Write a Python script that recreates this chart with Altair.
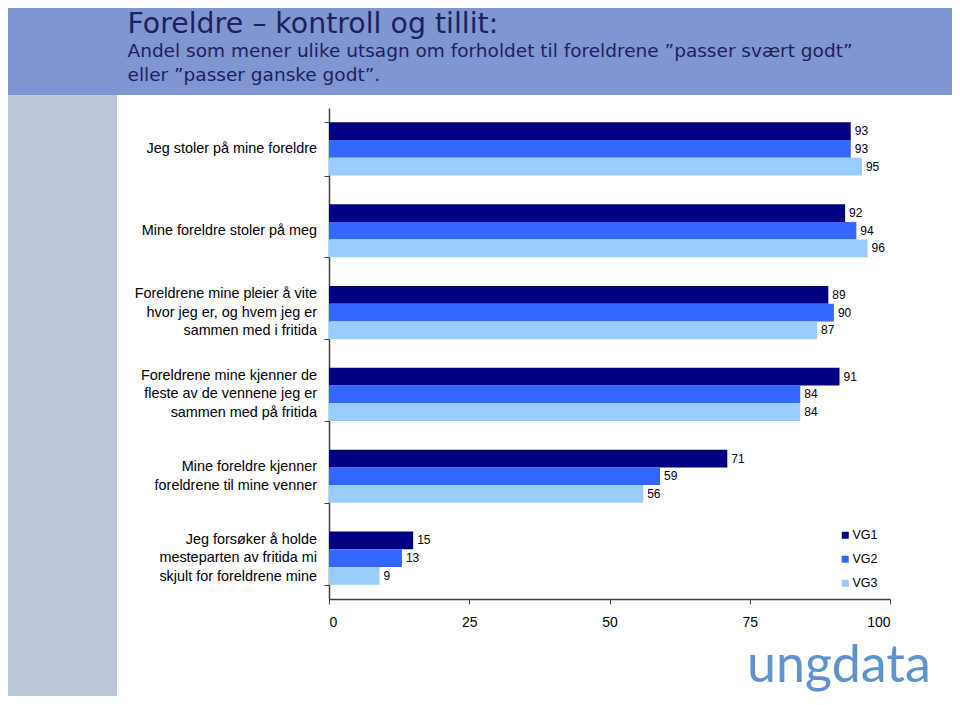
import altair as alt
import pandas as pd

# ---- data ----
categories = [
    "Jeg stoler på mine foreldre",
    "Mine foreldre stoler på meg",
    "Foreldrene mine pleier å vite\nhvor jeg er, og hvem jeg er\nsammen med i fritida",
    "Foreldrene mine kjenner de\nfleste av de vennene jeg er\nsammen med på fritida",
    "Mine foreldre kjenner\nforeldrene til mine venner",
    "Jeg forsøker å holde\nmesteparten av fritida mi\nskjult for foreldrene mine",
]
groups = ["VG1", "VG2", "VG3"]
vg1 = [93, 92, 89, 91, 71, 15]
vg2 = [93, 94, 90, 84, 59, 13]
vg3 = [95, 96, 87, 84, 56, 9]
x_ticks = [0, 25, 50, 75, 100]
colors = ["#000080", "#3366FF", "#99CCFF"]

title_text = "Foreldre – kontroll og tillit:"
subtitle_1 = "Andel som mener ulike utsagn om forholdet til foreldrene ”passer svært godt”"
subtitle_2 = "eller ”passer ganske godt”."
logo_text = "ungdata"

rows = []
for g, vals in zip(groups, [vg1, vg2, vg3]):
    for c, v in zip(categories, vals):
        rows.append({"category": c, "group": g, "value": v})
df = pd.DataFrame(rows)
cat_df = pd.DataFrame({"category": categories})
one = pd.DataFrame({"k": [0]})

W, H = 561, 491
PAD = {"left": 321, "top": 100, "right": 62, "bottom": 97}
LH = 18.5

y_enc = alt.Y(
    "category:N",
    sort=categories,
    scale=alt.Scale(paddingInner=0.35, paddingOuter=0.175),
    axis=alt.Axis(
        labels=False, title=None, tickBand="extent", tickSize=5,
        tickColor="#404040", domainColor="#404040", domainWidth=1.5, grid=False,
    ),
)
x_enc = alt.X(
    "value:Q",
    scale=alt.Scale(domain=[0, 100], nice=False),
    axis=alt.Axis(
        values=x_ticks, title=None, grid=False, tickSize=5, tickColor="#404040",
        domainColor="#404040", domainWidth=1.5, labelFont="Liberation Sans",
        labelFontSize=14, labelColor="#000000", labelPadding=11,
    ),
)
yoff = alt.YOffset("group:N", sort=groups)

bars = alt.Chart(df).mark_bar().encode(
    y=y_enc,
    x=x_enc,
    yOffset=yoff,
    color=alt.Color(
        "group:N",
        scale=alt.Scale(domain=groups, range=colors),
        legend=alt.Legend(
            title=None, orient="none", legendX=510, legendY=421,
            symbolType="square", symbolSize=49, symbolStrokeWidth=0,
            labelFont="Liberation Sans", labelFontSize=12.5, labelColor="#000000",
            rowPadding=11, labelOffset=1, padding=0,
        ),
    ),
)

values = alt.Chart(df).mark_text(
    align="left", baseline="middle", dx=4, font="Liberation Sans",
    fontSize=12, color="#000000",
).encode(y=alt.Y("category:N", sort=categories), x="value:Q", yOffset=yoff,
         text=alt.Text("value:Q"))


def label_layer(n_lines):
    return alt.Chart(cat_df).transform_calculate(
        nl="length(split(datum.category, '\\n'))"
    ).transform_filter(
        alt.datum.nl == n_lines
    ).mark_text(
        align="right", baseline="middle", font="Liberation Sans", fontSize=14.4,
        lineHeight=LH, lineBreak="\n", color="#000000",
        dy=-(n_lines - 1) * LH / 2,
    ).encode(y=alt.Y("category:N", sort=categories), x=alt.value(-12),
             text="category:N")


ylabels = [label_layer(n) for n in (1, 2, 3)]

header = alt.Chart(one).mark_rect(color="#8096D0").encode(
    x=alt.value(-PAD["left"]), x2=alt.value(W + PAD["right"]),
    y=alt.value(-PAD["top"]), y2=alt.value(-13),
)
sidebar = alt.Chart(one).mark_rect(color="#BEC8DC").encode(
    x=alt.value(-PAD["left"]), x2=alt.value(-212),
    y=alt.value(-13), y2=alt.value(H + PAD["bottom"]),
)


def deco_text(txt, x, y, size, color, font, weight="normal"):
    return alt.Chart(pd.DataFrame({"t": [txt]})).mark_text(
        align="left", baseline="alphabetic", fontSize=size, color=color,
        font=font, fontWeight=weight,
    ).encode(x=alt.value(x), y=alt.value(y), text="t:N")


title = deco_text(title_text, -201.5, -75, 28.4, "#1C2161", "DejaVu Sans")
sub1 = deco_text(subtitle_1, -201.5, -51, 18.5, "#1C2161", "DejaVu Sans")
sub2 = deco_text(subtitle_2, -201.5, -27, 18.5, "#1C2161", "DejaVu Sans")
logo = deco_text(logo_text, 418, 574, 52, "#5E93CF", "Lato", 400)

chart = alt.layer(
    header, sidebar, title, sub1, sub2, logo, bars, values, *ylabels
).properties(
    width=W, height=H,
    autosize=alt.AutoSizeParams(type="none"),
    padding=PAD,
    background="#FFFFFF",
).configure_view(stroke=None)

chart.save("out.html", embed_options={"renderer": "svg", "actions": False})
